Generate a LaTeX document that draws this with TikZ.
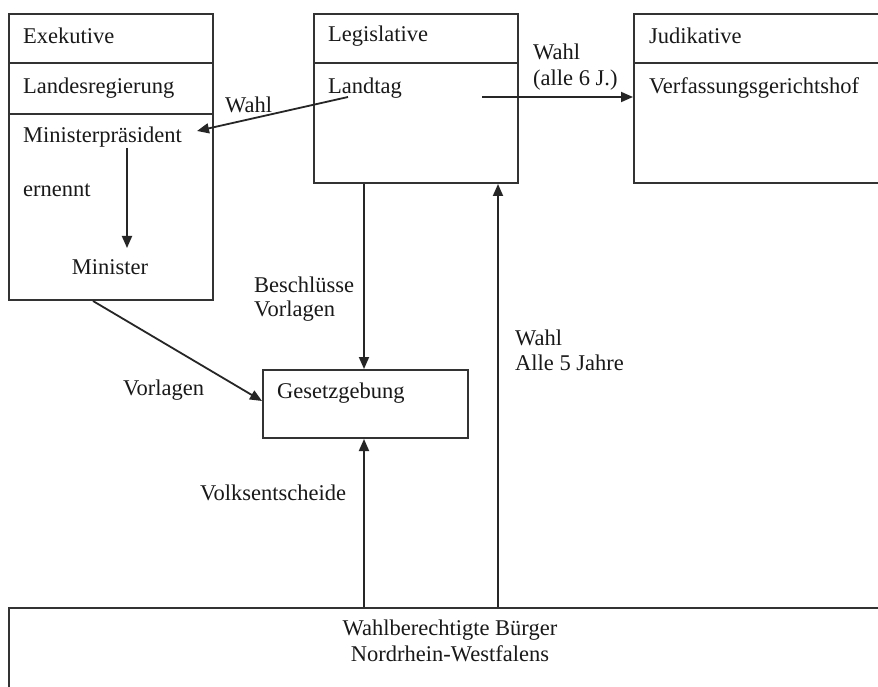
\documentclass[tikz,border=0pt]{standalone}
\usepackage{fontspec}
\setmainfont{Liberation Serif}
\usetikzlibrary{arrows.meta}
\begin{document}
\begin{tikzpicture}[x=1pt,y=-1pt,
  every node/.style={font=\fontsize{22.5}{26}\selectfont, text=black!90},
  box/.style={draw=black!80, line width=2pt, inner sep=0pt, anchor=north west},
  lbl/.style={inner sep=0pt, anchor=west},
  divider/.style={draw=black!80, line width=2pt},
  arr/.style={draw=black!85, line width=1.8pt, -{Triangle[length=12pt,width=10pt]}}]
\useasboundingbox (0,0) rectangle (878,687);
\fill[white] (0,0) rectangle (878,687);
\begin{scope}
\clip (0,0) rectangle (878,687);
% boxes
\node[box, minimum width=204, minimum height=286] (exe) at (8,13) {};
\node[box, minimum width=204, minimum height=169] (leg) at (313,13) {};
\node[box, minimum width=300, minimum height=169] (jud) at (633,13) {};
\node[box, minimum width=205, minimum height=68] (ges) at (262,369) {};
\node[box, minimum width=900, minimum height=120] (bur) at (8,607) {};
% dividers
\draw[divider] (exe.west |- 0,63) -- (exe.east |- 0,63);
\draw[divider] (exe.west |- 0,114) -- (exe.east |- 0,114);
\draw[divider] (leg.west |- 0,63) -- (leg.east |- 0,63);
\draw[divider] (jud.west |- 0,63) -- (jud.east |- 0,63);
\end{scope}
% texts
\node[lbl] (t1) at (23,36) {Exekutive};
\node[lbl] (t2) at (23,88) {Landesregierung};
\node[lbl] (t3) at (23,137) {Ministerpräsident};
\node[lbl] (t4) at (23,190) {ernennt};
\node[inner sep=0pt] (t5) at (110,267) {Minister};
\node[lbl] (t6) at (328,36) {Legislative};
\node[lbl] (t7) at (328,88) {Landtag};
\node[lbl] (t8) at (649,36) {Judikative};
\node[lbl] (t9) at (649,88) {Verfassungsgerichtshof};
\node[lbl] (l1) at (225,105) {Wahl};
\node[lbl] (l2) at (533,52) {Wahl};
\node[lbl] (l3) at (533,80) {(alle 6 J.)};
\node[lbl] (l4) at (254,285) {Beschlüsse};
\node[lbl] (l5) at (254,311) {Vorlagen};
\node[lbl] (l6) at (123,390) {Vorlagen};
\node[lbl] (t10) at (277,393) {Gesetzgebung};
\node[lbl] (l7) at (515,338) {Wahl};
\node[lbl] (l8) at (515,363) {Alle 5 Jahre};
\node[lbl] (l9) at (200,493) {Volksentscheide};
\node[inner sep=0pt, align=center] (t11) at (450,641) {Wahlberechtigte Bürger\\Nordrhein-Westfalens};
% connectors
\coordinate (ltA) at (348,97);
\coordinate (mpT) at (197,131);
\coordinate (ltB) at (482,97);
\coordinate (mpS) at (127,148);
\coordinate (miT) at (127,248);
\draw[arr] (ltA) -- (mpT);
\draw[arr] (ltB) -- (jud.west |- ltB);
\draw[arr] (mpS) -- (miT);
\draw[arr] (leg.south -| 364,0) -- (ges.north -| 364,0);
\draw[arr] (bur.north -| 364,0) -- (ges.south -| 364,0);
\draw[arr] (bur.north -| 498,0) -- (leg.south -| 498,0);
\draw[arr] (exe.south -| 93,0) -- (ges.west |- 0,401);
\end{tikzpicture}
\end{document}
